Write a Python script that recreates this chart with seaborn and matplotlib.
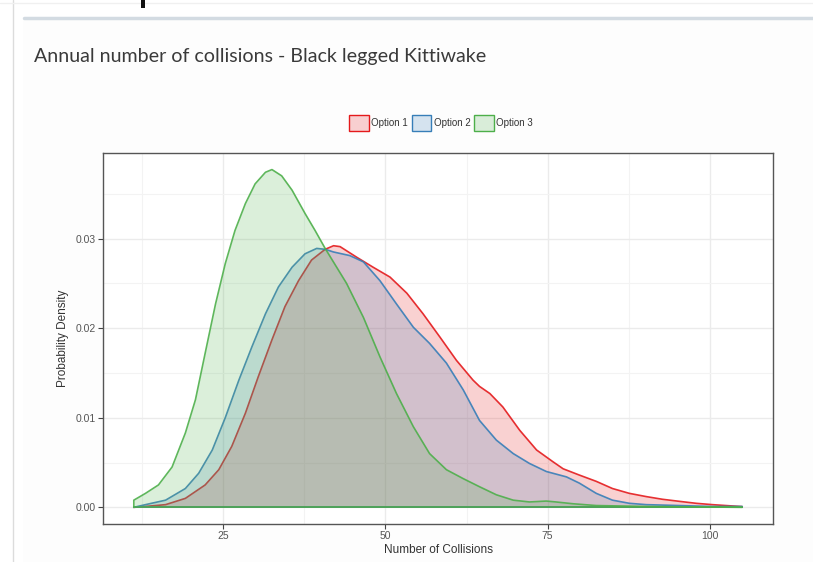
import numpy as np
import pandas as pd
import matplotlib
matplotlib.use("Agg")
import matplotlib.pyplot as plt
import seaborn as sns
from matplotlib import font_manager
from matplotlib.patches import Patch, Rectangle
from matplotlib.lines import Line2D
from matplotlib.colors import to_rgba

# ---------------- data ----------------
options = ["Option 1", "Option 2", "Option 3"]

opt1_x = [11.2, 13.0, 16.1, 19.15, 22.2, 24.3, 26.3, 28.4, 30.4, 32.5, 34.5, 36.6, 38.6, 40.7,
          42.0, 43.0, 45.6, 48.1, 50.7, 53.3, 55.8, 58.4, 60.95, 63.5, 64.5, 66.1, 68.1, 70.7,
          73.3, 75.8, 77.4, 79.9, 82.5, 85.0, 87.6, 90.2, 92.7, 95.3, 97.9, 100.4, 105.0]
opt1_y = [0.0000, 0.0001, 0.0003, 0.0010, 0.0025, 0.0042, 0.0068, 0.0105, 0.0146, 0.0187,
          0.0224, 0.0253, 0.0276, 0.0288, 0.0292, 0.0291, 0.0279, 0.0268, 0.0257, 0.0239,
          0.0216, 0.0190, 0.0164, 0.0142, 0.0135, 0.0127, 0.0112, 0.0086, 0.0064, 0.0051,
          0.0043, 0.0036, 0.0029, 0.0021, 0.00156, 0.0012, 0.0009, 0.00067, 0.00045, 0.0003,
          0.00008]

opt2_x = [11.2, 13.0, 16.1, 19.15, 21.2, 23.3, 25.3, 27.4, 29.4, 31.5, 33.5, 35.6, 37.6, 39.4,
          40.7, 42.0, 44.5, 46.6, 49.15, 51.7, 54.3, 56.8, 59.4, 62.0, 64.5, 67.1, 69.7, 72.2,
          74.8, 77.9, 79.9, 82.5, 85.0, 87.6, 90.2, 95.3, 100.0, 105.0]
opt2_y = [0.0000, 0.0003, 0.0008, 0.0021, 0.0038, 0.0064, 0.0100, 0.0142, 0.0179, 0.0216,
          0.0246, 0.0268, 0.0283, 0.0289, 0.0288, 0.0285, 0.0281, 0.0274, 0.0253, 0.0227,
          0.0201, 0.0183, 0.0161, 0.0131, 0.0097, 0.0075, 0.0060, 0.0049, 0.0040, 0.0034,
          0.0027, 0.00156, 0.0008, 0.00045, 0.0003, 0.0002, 0.0001, 0.0001]

opt3_x = [11.2, 11.2, 13.0, 15.0, 17.1, 19.15, 20.7, 22.2, 23.8, 25.3, 26.8, 28.4, 29.9, 31.5,
          32.5, 34.0, 35.6, 37.6, 39.15, 40.7, 44.0, 46.6, 49.15, 51.7, 54.3, 56.8, 59.4, 62.0,
          64.5, 67.1, 69.7, 72.2, 74.8, 76.3, 78.9, 82.5, 90.0, 105.0]
opt3_y = [0.0000, 0.0008, 0.00156, 0.0025, 0.0045, 0.0083, 0.0120, 0.0172, 0.0227, 0.0272,
          0.0309, 0.0339, 0.0361, 0.0374, 0.0377, 0.0370, 0.0354, 0.0328, 0.0309, 0.0289,
          0.0250, 0.0212, 0.0168, 0.0127, 0.0090, 0.0060, 0.0042, 0.0032, 0.0023, 0.0014,
          0.0008, 0.0006, 0.0007, 0.0006, 0.0004, 0.0002, 0.0001, 0.0000]

x_ticks = [25, 50, 75, 100]
x_tick_labels = ["25", "50", "75", "100"]
x_minor = [12.5, 37.5, 62.5, 87.5]
y_ticks = [0.00, 0.01, 0.02, 0.03]
y_tick_labels = ["0.00", "0.01", "0.02", "0.03"]
y_minor = [0.005, 0.015, 0.025, 0.035]

title = "Annual number of collisions - Black legged Kittiwake"
x_label = "Number of Collisions"
y_label = "Probability Density"

palette = {"Option 1": "#E41A1C", "Option 2": "#377EB8", "Option 3": "#4DAF4A"}

df = pd.concat([
    pd.DataFrame({"x": opt1_x, "density": opt1_y, "option": options[0]}),
    pd.DataFrame({"x": opt2_x, "density": opt2_y, "option": options[1]}),
    pd.DataFrame({"x": opt3_x, "density": opt3_y, "option": options[2]}),
], ignore_index=True)

# ---------------- style ----------------
sns.set_theme(style="white")
names = {f.name for f in font_manager.fontManager.ttflist}
narrow = "Liberation Sans Narrow" if "Liberation Sans Narrow" in names else "Liberation Sans"
plt.rcParams["font.family"] = [narrow, "DejaVu Sans"]

W, H = 813, 562
fig = plt.figure(figsize=(W / 100, H / 100), dpi=100)
fig.patch.set_facecolor("white")

# page decorations (screenshot frame)
fig.add_artist(Line2D([13 / W, 13 / W], [0, 1], color="#dcdcdc", lw=1.0, zorder=1))
fig.add_artist(Rectangle((23 / W, 0), 1 - 23 / W, 1 - 19 / H, facecolor="#fdfdfd",
                         edgecolor="none", zorder=0))
fig.add_artist(Line2D([24 / W, 1], [1 - 18 / H, 1 - 18 / H], color="#d3dbe2", lw=2.5,
                      zorder=1))
fig.add_artist(Line2D([0, 1], [1 - 3 / H, 1 - 3 / H], color="#f0f0f0", lw=1.0, zorder=1))
fig.add_artist(Rectangle((141 / W, 1 - 8 / H), 4 / W, 8 / H, facecolor="#111111",
                         edgecolor="none", zorder=5))

ax = fig.add_axes([103 / W, 38 / H, 670 / W, 371 / H])
ax.set_facecolor("white")

for i, opt in enumerate(options):
    sub = df[df["option"] == opt]
    c = palette[opt]
    z = 2 + i
    ax.fill_between(sub["x"], 0, sub["density"], color=c, alpha=0.2, lw=0, zorder=z)
    sns.lineplot(data=sub, x="x", y="density", ax=ax, color=c, lw=1.2, alpha=0.9,
                 estimator=None, sort=False, legend=False, zorder=z + 0.1)
    ax.plot([sub["x"].min(), sub["x"].max()], [0, 0], color=c, lw=1.2, alpha=0.9,
            zorder=z + 0.1)

ax.set_xlim(6.45, 109.75)
ax.set_ylim(-0.00186, 0.03955)
ax.set_xticks(x_ticks)
ax.set_xticklabels(x_tick_labels)
ax.set_yticks(y_ticks)
ax.set_yticklabels(y_tick_labels)
ax.set_xticks(x_minor, minor=True)
ax.set_yticks(y_minor, minor=True)
ax.grid(True, which="major", color="#ebebeb", lw=1.0, zorder=0)
ax.grid(True, which="minor", color="#f3f3f3", lw=0.8, zorder=0)
ax.set_axisbelow(True)
ax.tick_params(which="major", length=3.5, width=0.8, color="#444444",
               labelsize=7.5, labelcolor="#555555", pad=1.5,
               bottom=True, left=True)
ax.tick_params(which="minor", length=0)
for s in ax.spines.values():
    s.set_visible(True)
    s.set_color("#555555")
    s.set_linewidth(1.0)
ax.set_xlabel("")
ax.set_ylabel("")

fig.text(63 / W, 1 - 338 / H, y_label, rotation=90, ha="center", va="center",
         fontsize=8.5, color="#333333")
fig.text(438 / W, 1 - 550 / H, x_label, ha="center", va="center",
         fontsize=8.5, color="#333333")

# title
t = fig.text(34 / W, 1 - 62 / H, title, ha="left", va="baseline",
             fontsize=14, color="#3a3a3a", family=["Lato", "DejaVu Sans"])
r = fig.canvas.get_renderer()
wpx = t.get_window_extent(r).width
t.set_fontsize(14 * 453 / wpx)

# legend
handles = [Patch(facecolor=to_rgba(palette[o], 0.2), edgecolor=palette[o], lw=1.0)
           for o in options]
fig.legend(handles, options, loc="center", bbox_to_anchor=(441 / W, 1 - 123 / H),
           ncol=3, frameon=False, fontsize=7, handlelength=2.0, handleheight=2.0,
           handletextpad=0.25, columnspacing=0.4, borderpad=0, labelcolor="#333333")

fig.savefig("out.png", dpi=100, facecolor=fig.get_facecolor())
